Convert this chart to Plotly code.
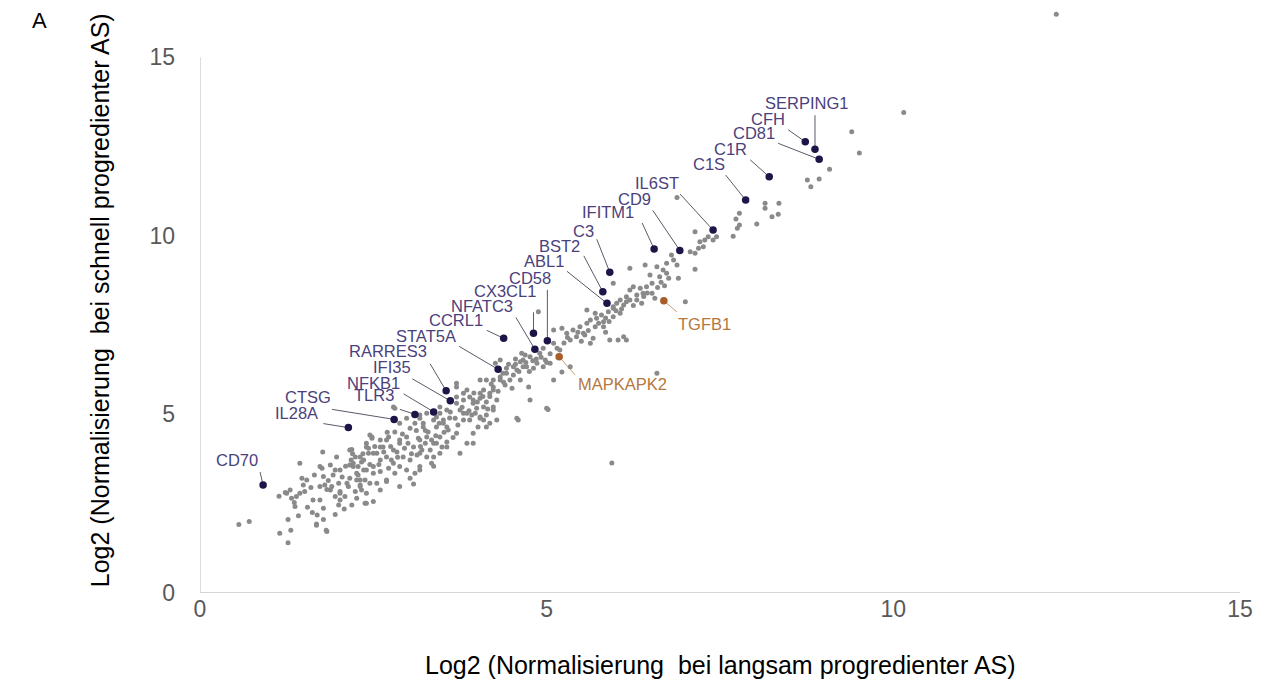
import plotly.graph_objects as go

# Background genes: log2 normalised expression (slow vs. fast progression)
gray_x = [
    0.56, 0.71, 1.14, 1.15, 1.27, 1.31, 1.27, 1.42, 1.44, 1.47,
    1.49, 1.51, 1.63, 1.73, 1.69, 1.68, 1.78, 1.82, 1.77, 1.73,
    1.78, 1.80, 1.88, 1.88, 1.95, 1.97, 2.00, 2.02, 2.02, 2.09,
    2.14, 2.16, 2.19, 2.24, 2.21, 2.26, 2.24, 2.26, 2.31, 2.33,
    2.36, 2.38, 2.40, 2.43, 2.40, 2.19, 1.25, 1.37, 1.68, 1.83,
    1.78, 1.76, 1.90, 2.00, 2.16, 2.26, 2.33, 2.38, 2.48, 2.50,
    2.55, 2.50, 1.23, 1.30, 1.32, 1.36, 1.39, 1.44, 2.81, 2.88,
    2.98, 3.03, 3.10, 3.17, 3.22, 3.27, 3.29, 3.37, 3.41, 3.46,
    3.51, 3.56, 3.58, 3.34, 3.41, 3.25, 3.15, 3.08, 3.00, 2.88,
    2.81, 2.72, 2.64, 2.60, 2.48, 2.43, 2.55, 2.69, 2.76, 2.84,
    2.93, 3.03, 3.13, 3.20, 3.27, 3.34, 3.49, 3.56, 2.36, 2.28,
    2.40, 2.60, 2.72, 2.81, 2.88, 2.98, 3.10, 3.17, 2.02, 1.92,
    2.16, 2.18, 2.45, 2.31, 2.45, 1.73, 2.69, 3.03, 1.54, 3.85,
    3.70, 3.80, 3.89, 3.94, 4.04, 4.09, 4.13, 3.99, 3.85, 3.75,
    3.68, 3.80, 3.92, 4.04, 4.13, 4.23, 4.18, 4.28, 4.57, 3.70,
    4.23, 4.28, 4.23, 4.33, 4.42, 4.47, 4.52, 4.57, 4.62, 4.40,
    4.50, 4.66, 4.71, 4.64, 4.33, 4.26, 4.74, 3.46, 3.41, 3.51,
    3.22, 3.17, 4.88, 5.22, 5.19, 5.10, 5.29, 5.34, 5.38, 5.43,
    5.48, 5.55, 5.58, 5.67, 5.63, 5.72, 5.79, 5.82, 5.89, 5.96,
    6.01, 6.06, 6.11, 6.15, 5.96, 6.03, 6.15, 5.91, 5.05, 4.98,
    4.90, 4.86, 4.76, 4.69, 4.62, 4.52, 4.66, 4.81, 4.95, 4.42,
    4.37, 4.33, 4.23, 4.18, 4.09, 3.97, 4.09, 4.01, 4.59, 4.76,
    5.00, 5.22, 5.34, 5.10, 5.10, 6.11, 6.88, 7.14, 7.21, 7.28,
    7.33, 7.19, 7.14, 7.07, 6.80, 6.83, 6.88, 6.73, 6.68, 6.73,
    6.63, 6.76, 6.90, 7.14, 6.59, 6.49, 6.42, 6.20, 6.25, 6.35,
    6.44, 6.52, 6.39, 6.52, 6.30, 6.20, 6.15, 6.56, 6.37, 5.96,
    7.00, 5.58, 5.70, 5.82, 5.96, 6.06, 5.85, 5.53, 5.63, 9.40,
    9.51, 9.08, 8.76, 8.93, 8.81, 8.35, 8.15, 8.15, 8.34, 8.25,
    8.03, 7.78, 7.73, 7.78, 7.75, 7.69, 7.45, 7.40, 7.26, 12.35,
    10.15, 5.94, 6.59, 5.02, 2.79, 3.70, 3.80, 3.94, 4.04, 4.18,
    4.23, 4.13, 4.04, 3.70, 3.61, 3.80, 3.89, 4.04, 4.13, 3.94,
    3.85, 3.70, 3.56, 3.46, 3.37, 3.27, 3.17, 2.98, 2.88, 2.79,
    2.69, 2.60, 2.50, 2.40, 2.31, 2.21, 2.60, 2.79, 3.17, 3.37,
    3.56, 3.75, 3.94, 3.17, 3.37, 3.46, 2.69, 2.88, 3.08, 2.50,
    2.31, 2.12, 2.02, 1.83, 2.40, 2.60, 4.85, 4.92, 5.00, 5.05,
    4.95, 4.80, 4.70, 4.75, 4.60, 4.55, 5.15, 5.25, 5.30, 5.45,
    5.50, 5.60, 5.70, 5.75, 5.85, 5.90, 6.00, 6.08, 6.20, 6.25,
    6.30, 6.45, 6.40, 6.60, 6.65, 6.70, 1.60, 1.65, 1.85, 1.95,
    2.05, 2.10, 2.20, 2.28, 2.35, 2.45, 2.52, 2.58, 2.65, 2.70,
    2.75, 2.85, 2.92, 2.95, 3.05, 3.12, 3.18, 3.25, 3.32, 3.40,
    3.45, 3.52, 3.60, 3.65, 3.72, 3.78, 3.88, 3.95, 4.00, 4.08,
    4.15, 4.20, 4.30, 4.38, 4.45, 4.55, 1.55, 1.62, 1.95, 2.08,
]
gray_y = [
    1.92, 2.00, 2.71, 1.67, 2.06, 1.76, 1.41, 2.16, 3.63, 3.21,
    3.02, 2.84, 2.60, 2.60, 2.18, 1.90, 2.06, 1.76, 3.95, 3.54,
    3.26, 3.02, 3.58, 2.88, 3.44, 3.81, 3.07, 2.84, 2.60, 2.70,
    2.98, 3.21, 4.02, 3.81, 3.54, 3.35, 2.84, 2.65, 3.02, 3.67,
    3.44, 3.16, 4.19, 3.91, 2.51, 2.46, 2.79, 2.42, 1.93, 1.72,
    2.37, 3.49, 2.98, 2.46, 3.58, 3.16, 2.88, 2.51, 4.37, 3.54,
    3.07, 2.56, 2.81, 2.88, 2.65, 2.53, 2.70, 2.79, 5.17, 4.75,
    4.89, 4.61, 4.75, 4.89, 4.65, 5.03, 4.51, 4.84, 4.65, 5.03,
    4.75, 5.12, 4.56, 4.28, 4.19, 4.19, 4.33, 4.09, 4.19, 4.28,
    4.51, 4.37, 4.09, 4.28, 4.33, 4.05, 3.91, 3.81, 3.72, 3.95,
    3.81, 3.72, 3.86, 4.00, 3.81, 3.63, 4.09, 4.23, 3.72, 3.54,
    3.44, 3.40, 3.49, 3.35, 3.54, 3.44, 3.35, 3.54, 3.44, 3.30,
    4.00, 3.72, 4.42, 2.98, 3.07, 2.98, 3.12, 3.21, 3.16, 5.68,
    5.49, 5.40, 5.49, 5.31, 5.45, 5.21, 5.35, 5.17, 5.03, 5.12,
    4.89, 4.84, 4.98, 4.89, 4.98, 5.12, 4.75, 4.84, 4.89, 5.87,
    5.68, 5.40, 5.96, 6.05, 6.15, 5.96, 6.10, 6.24, 5.96, 5.82,
    5.73, 6.52, 6.33, 6.71, 6.52, 6.43, 5.77, 5.21, 4.93, 4.84,
    4.75, 4.98, 7.87, 7.41, 6.80, 6.99, 7.27, 7.08, 7.36, 7.17,
    7.45, 7.22, 7.55, 7.13, 7.64, 7.69, 7.78, 7.59, 7.87, 7.97,
    8.11, 8.20, 8.06, 8.15, 8.67, 7.08, 7.08, 7.08, 6.43, 6.52,
    6.71, 6.43, 6.61, 6.66, 6.47, 6.33, 6.33, 6.29, 6.33, 6.29,
    6.15, 5.96, 5.77, 5.59, 5.68, 5.03, 4.84, 4.65, 4.84, 5.40,
    5.17, 6.19, 6.33, 5.96, 7.36, 7.17, 11.07, 10.11, 9.83, 9.88,
    9.97, 9.65, 9.51, 9.55, 9.46, 9.32, 9.18, 9.23, 9.04, 8.95,
    8.85, 8.81, 8.81, 9.06, 9.13, 8.90, 9.18, 9.09, 8.57, 8.53,
    8.57, 8.67, 8.39, 8.39, 8.34, 8.48, 8.29, 8.25, 8.11, 8.01,
    8.15, 7.92, 7.83, 7.45, 7.73, 7.83, 7.30, 7.27, 6.99, 12.91,
    12.32, 11.86, 11.56, 11.59, 11.37, 10.91, 10.91, 10.77, 10.60, 10.53,
    10.33, 10.63, 10.47, 10.30, 10.21, 9.99, 9.97, 9.88, 9.69, 16.20,
    13.45, 3.64, 6.15, 5.14, 5.21, 5.77, 5.59, 5.40, 5.59, 5.50,
    5.21, 5.96, 5.96, 5.31, 5.07, 5.03, 4.84, 4.93, 4.65, 4.47,
    4.19, 4.47, 4.65, 4.37, 4.19, 4.37, 4.28, 4.37, 4.19, 4.00,
    4.28, 4.09, 3.91, 4.09, 3.81, 3.63, 3.72, 3.63, 3.91, 3.81,
    4.09, 3.91, 4.19, 3.44, 3.55, 3.91, 3.16, 2.98, 3.05, 3.35,
    3.16, 3.07, 2.79, 2.90, 2.79, 2.88, 6.55, 6.60, 6.45, 6.70,
    6.85, 6.50, 6.45, 6.20, 6.20, 6.40, 6.85, 7.00, 7.15, 7.30,
    7.05, 7.35, 7.45, 7.55, 7.70, 7.60, 7.90, 7.95, 8.20, 8.05,
    8.20, 8.40, 8.30, 8.55, 8.70, 8.60, 2.95, 3.30, 3.15, 2.70,
    3.25, 3.55, 3.90, 3.30, 3.90, 3.60, 4.10, 3.60, 3.95, 4.50,
    4.10, 3.80, 4.45, 4.05, 3.90, 4.55, 4.10, 4.55, 4.00, 4.40,
    4.75, 4.50, 4.90, 4.35, 4.70, 5.20, 5.10, 5.60, 5.35, 5.50,
    5.15, 5.85, 5.65, 5.90, 6.40, 6.55, 2.40, 2.25, 2.20, 2.35,
]

# Highlighted immune genes
purple_genes = ["CD70", "IL28A", "CTSG", "TLR3", "NFKB1", "IFI35", "RARRES3",
                "STAT5A", "CCRL1", "NFATC3", "CX3CL1", "CD58", "ABL1", "BST2",
                "C3", "IFITM1", "CD9", "IL6ST", "C1S", "C1R", "CD81", "CFH",
                "SERPING1"]
purple_x = [0.91, 2.14, 2.80, 3.10, 3.37, 3.61, 3.55, 4.30, 4.38, 4.83, 4.81,
            5.01, 5.87, 5.81, 5.91, 6.55, 6.92, 7.40, 7.87, 8.21, 8.93, 8.73,
            8.87]
purple_y = [3.02, 4.63, 4.86, 5.00, 5.07, 5.38, 5.66, 6.26, 7.13, 6.82, 7.27,
            7.06, 8.11, 8.43, 8.98, 9.63, 9.59, 10.16, 11.00, 11.65, 12.14,
            12.63, 12.42]

orange_genes = ["MAPKAPK2", "TGFB1"]
orange_x = [5.18, 6.69]
orange_y = [6.61, 8.18]

# Label centre offsets from each point (screen pixels: right, down)
purple_label_offset = [(-26, -25), (-52, -15), (-86, -22), (-41, -19),
                       (-60, -29), (-58, -34), (-58, -40), (-72, -33),
                       (-48, -18), (-53, -43), (-28, -42), (-17, -63),
                       (-63, -42), (-43, -46), (-26, -41), (-46, -37),
                       (-45, -51), (-56, -47), (-37, -36), (-39, -28),
                       (-65, -26), (-37, -23), (-8, -46)]
# Where each leader line starts, relative to its point (pixels)
purple_leader_start = [(-3, -13), (-25, -4), (-62, -10), (-15, -5),
                       (-30, -18), (-38, -22), (-16, -27), (-39, -23),
                       (-17, -8), (-19, -32), (0, -21), (0, -51),
                       (-40, -32), (-19, -36), (-13, -33), (-12, -26),
                       (-27, -40), (-33, -36), (-20, -25), (-19, -17),
                       (-41, -16), (-17, -12), (0, -34)]
orange_label_offset = [(63, 27), (41, 23)]
orange_leader_start = [(16, 18), (13, 11)]

PURPLE_TEXT = "#4b3f7c"
PURPLE_DOT = "#1d1448"
ORANGE_TEXT = "#b5773c"
ORANGE_DOT = "#a65d27"
GRAY_DOT = "#8a8a8a"
AXIS_LINE = "#c9c9c9"
TICK_TEXT = "#595959"
FONT = "Liberation Sans, Arial, sans-serif"

fig = go.Figure()

fig.add_trace(go.Scatter(
    x=gray_x, y=gray_y, mode="markers",
    marker=dict(size=5, color=GRAY_DOT), hoverinfo="skip", showlegend=False,
))
fig.add_trace(go.Scatter(
    x=purple_x, y=purple_y, mode="markers", text=purple_genes,
    marker=dict(size=7.5, color=PURPLE_DOT), showlegend=False,
))
fig.add_trace(go.Scatter(
    x=orange_x, y=orange_y, mode="markers", text=orange_genes,
    marker=dict(size=7.5, color=ORANGE_DOT), showlegend=False,
))

shapes = [
    # axis lines
    dict(type="line", xref="x", yref="y", x0=0, y0=0, x1=15, y1=0,
         line=dict(color=AXIS_LINE, width=1.3), layer="below"),
    dict(type="line", xref="x", yref="y", x0=0, y0=0, x1=0, y1=15,
         line=dict(color=AXIS_LINE, width=1.3), layer="below"),
]
annotations = []


def add_label(name, x, y, label_off, line_off, text_color, line_color):
    shapes.append(dict(
        type="line", xref="x", yref="y",
        xsizemode="pixel", ysizemode="pixel", xanchor=x, yanchor=y,
        x0=line_off[0], y0=-line_off[1], x1=0, y1=0,
        line=dict(color=line_color, width=1), layer="below",
    ))
    annotations.append(dict(
        x=x, y=y, xref="x", yref="y", text=name, showarrow=False,
        xshift=label_off[0], yshift=-label_off[1],
        xanchor="center", yanchor="middle",
        font=dict(family=FONT, size=16.5, color=text_color),
    ))


for g, x, y, lo, so in zip(purple_genes, purple_x, purple_y,
                           purple_label_offset, purple_leader_start):
    add_label(g, x, y, lo, so, PURPLE_TEXT, "#5a5a6a")
for g, x, y, lo, so in zip(orange_genes, orange_x, orange_y,
                           orange_label_offset, orange_leader_start):
    add_label(g, x, y, lo, so, ORANGE_TEXT, "#c99a6a")

annotations += [
    dict(text="Log2 (Normalisierung  bei langsam progredienter AS)",
         xref="paper", yref="paper", x=0.5, y=-0.121, showarrow=False,
         xanchor="center", yanchor="middle",
         font=dict(family=FONT, size=25, color="#000000")),
    dict(text="Log2 (Normalisierung  bei schnell progredienter AS)",
         xref="paper", yref="paper", x=-0.096, y=0.494, showarrow=False,
         textangle=-90, xanchor="center", yanchor="middle",
         font=dict(family=FONT, size=25, color="#000000")),
    dict(text="A", xref="paper", yref="paper", x=-0.154, y=0.966,
         showarrow=False, xanchor="center", yanchor="middle",
         font=dict(family=FONT, size=22, color="#000000")),
]

fig.update_layout(
    width=1275, height=686,
    margin=dict(l=200, r=35, t=0, b=93),
    paper_bgcolor="white", plot_bgcolor="white",
    shapes=shapes, annotations=annotations,
    font=dict(family=FONT),
    xaxis=dict(range=[0, 15], tickvals=[0, 5, 10, 15], showgrid=False,
               zeroline=False, showline=False, ticks="",
               tickfont=dict(size=23, color=TICK_TEXT)),
    yaxis=dict(range=[0, 16.6], tickvals=[0, 5, 10, 15], showgrid=False,
               zeroline=False, showline=False, ticks="",
               ticklabelstandoff=24,
               tickfont=dict(size=23, color=TICK_TEXT)),
)

fig.write_html("out.html", config={"displayModeBar": False})
